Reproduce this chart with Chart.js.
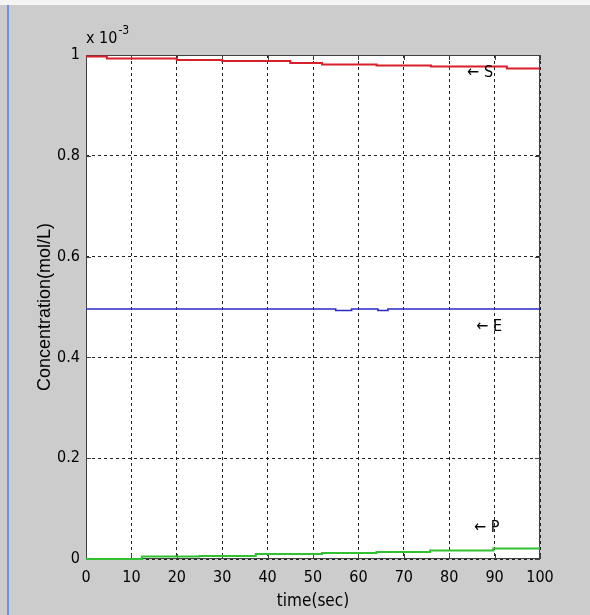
<!DOCTYPE html>
<html>
<head>
<meta charset="utf-8">
<script src="https://cdn.jsdelivr.net/npm/chart.js@4.4.0/dist/chart.umd.min.js"></script>
<style>
    html, body { margin: 0; padding: 0; background: #cccccc; }
    canvas { display: block; }
</style>
</head>
<body>
<canvas id="conc-chart" width="590" height="615"></canvas>
<script>
// concentrations in units of 10^-3 mol/L
const s_time = [0, 4.6, 20, 30, 45, 52, 64, 76, 92.7, 100];
const s_value = [0.997, 0.993, 0.990, 0.988, 0.984, 0.981, 0.979, 0.977, 0.973, 0.973];

const e_time = [0, 55, 58.5, 64.3, 66.5, 100];
const e_value = [0.496, 0.493, 0.496, 0.493, 0.496, 0.496];

const p_time = [0, 12.3, 25, 37.4, 52, 64, 75.8, 89.7, 100];
const p_value = [0, 0.005, 0.006, 0.010, 0.012, 0.014, 0.017, 0.021, 0.021];

const x_ticks = [0, 10, 20, 30, 40, 50, 60, 70, 80, 90, 100];
const y_ticks = [0, 0.2, 0.4, 0.6, 0.8, 1];
const y_tick_labels = ['0', '0.2', '0.4', '0.6', '0.8', '1'];

const curve_labels = ['S', 'E', 'P'];
const label_pos = [[84, 0.964], [86, 0.461], [85.5, 0.061]];

const toPoints = (t, v) => t.map((x, i) => ({ x: x, y: v[i] }));

const font_family = "'Liberation Sans Narrow', 'DejaVu Sans Condensed', 'Liberation Sans', sans-serif";

const matlabFrame = {
    id: 'matlabFrame',
    beforeDraw(chart) {
        const ctx = chart.ctx;
        const a = chart.chartArea;
        ctx.save();
        ctx.fillStyle = '#cccccc';
        ctx.fillRect(0, 0, chart.width, chart.height);
        ctx.fillStyle = '#f4f4f4';
        ctx.fillRect(0, 0, chart.width, 5);
        ctx.fillStyle = '#6f8fe0';
        ctx.fillRect(7, 5, 2, chart.height - 5);
        ctx.fillStyle = '#ffffff';
        ctx.fillRect(a.left, a.top, a.right - a.left, a.bottom - a.top);
        ctx.restore();
    },
    beforeDatasetsDraw(chart) {
        const ctx = chart.ctx;
        const a = chart.chartArea;
        const xs = chart.scales.x;
        const ys = chart.scales.y;
        ctx.save();
        ctx.strokeStyle = '#404040';
        ctx.lineWidth = 1;
        ctx.strokeRect(a.left + 0.5, a.top + 0.5, a.right - a.left - 1, a.bottom - a.top - 1);

        ctx.beginPath();
        x_ticks.forEach(v => {
            const px = Math.round(xs.getPixelForValue(v)) + 0.5;
            ctx.moveTo(px, a.bottom);
            ctx.lineTo(px, a.bottom - 5);
            ctx.moveTo(px, a.top);
            ctx.lineTo(px, a.top + 5);
        });
        y_ticks.forEach(v => {
            const py = Math.round(ys.getPixelForValue(v)) + 0.5;
            ctx.moveTo(a.left, py);
            ctx.lineTo(a.left + 5, py);
            ctx.moveTo(a.right, py);
            ctx.lineTo(a.right - 5, py);
        });
        ctx.stroke();
        ctx.restore();
    },
    afterDraw(chart) {
        const ctx = chart.ctx;
        const a = chart.chartArea;
        const xs = chart.scales.x;
        const ys = chart.scales.y;
        ctx.save();
        ctx.fillStyle = '#000000';
        ctx.textBaseline = 'alphabetic';
        ctx.textAlign = 'left';
        ctx.font = '16px ' + font_family;
        ctx.fillText('x 10', a.left, a.top - 12);
        const w = ctx.measureText('x 10').width;
        ctx.font = '12px ' + font_family;
        ctx.fillText('-3', a.left + w + 1, a.top - 21);

        ctx.font = '16px ' + font_family;
        ctx.textBaseline = 'middle';
        curve_labels.forEach((txt, i) => {
            const px = xs.getPixelForValue(label_pos[i][0]);
            const py = ys.getPixelForValue(label_pos[i][1]);
            ctx.fillText('\u2190 ' + txt, px, py);
        });
        ctx.restore();
    }
};

(function () {
    const canvas = document.getElementById('conc-chart');

    const data = {
        datasets: [{
            label: 'S',
            data: toPoints(s_time, s_value),
            borderColor: '#d8202c',
            borderWidth: 2,
            stepped: 'before',
            pointRadius: 0,
            clip: 4,
        }, {
            label: 'E',
            data: toPoints(e_time, e_value),
            borderColor: '#2a2ac8',
            borderWidth: 1.6,
            stepped: 'before',
            pointRadius: 0,
            clip: 4,
        }, {
            label: 'P',
            data: toPoints(p_time, p_value),
            borderColor: '#30c030',
            borderWidth: 2,
            stepped: 'before',
            pointRadius: 0,
            clip: 4,
        }]
    };

    const config = {
        type: 'line',
        data: data,
        options: {
            responsive: false,
            animation: false,
            devicePixelRatio: 1,
            layout: {
                padding: { top: 55, right: 50, left: 0, bottom: 0 }
            },
            plugins: {
                legend: { display: false },
                tooltip: { enabled: false },
            },
            scales: {
                x: {
                    type: 'linear',
                    min: 0,
                    max: 100,
                    afterBuildTicks: (scale) => {
                        scale.ticks = x_ticks.map(v => ({ value: v }));
                    },
                    afterFit: (scale) => { scale.height = 56; },
                    ticks: {
                        color: '#000',
                        font: { family: font_family, size: 16 },
                        padding: 9,
                        maxRotation: 0,
                        autoSkip: false,
                    },
                    grid: {
                        color: '#222',
                        drawTicks: false,
                        lineWidth: 1,
                    },
                    border: { display: false, dash: [3, 3] },
                    title: {
                        display: true,
                        text: 'time(sec)',
                        color: '#000',
                        font: { family: font_family, size: 17 },
                        padding: { top: 0, bottom: 3 },
                    },
                },
                y: {
                    min: 0,
                    max: 1,
                    afterBuildTicks: (scale) => {
                        scale.ticks = y_ticks.map(v => ({ value: v }));
                    },
                    afterFit: (scale) => { scale.width = 86; },
                    ticks: {
                        color: '#000',
                        font: { family: font_family, size: 16 },
                        padding: 6,
                        autoSkip: false,
                        callback: (value) => y_tick_labels[y_ticks.indexOf(value)] ?? String(value),
                    },
                    grid: {
                        color: '#222',
                        drawTicks: false,
                        lineWidth: 1,
                    },
                    border: { display: false, dash: [3, 3] },
                    title: {
                        display: true,
                        text: 'Concentration(mol/L)',
                        color: '#000',
                        font: { family: "'Liberation Sans', sans-serif", size: 18 },
                        padding: { top: 34, bottom: 0 },
                    },
                },
            },
        },
        plugins: [matlabFrame],
    };

    new Chart(canvas, config);
})();
</script>
</body>
</html>
